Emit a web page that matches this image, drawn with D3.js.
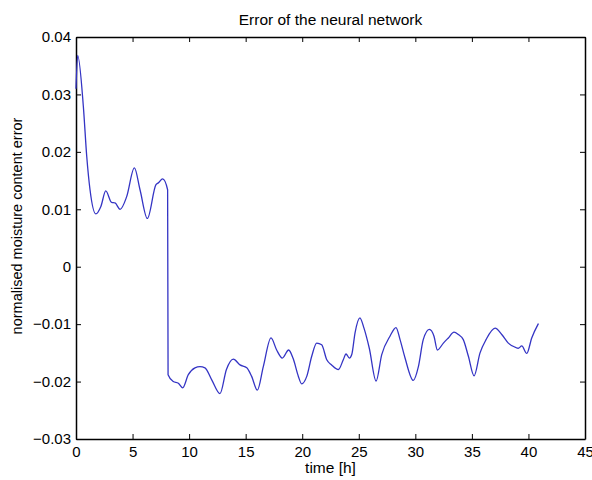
<!DOCTYPE html>
<html>
<head>
<meta charset="utf-8">
<script src="https://cdn.jsdelivr.net/npm/d3@7"></script>
<style>
body { margin: 0; background: #fff; }
text { font-family: "Liberation Sans", Arial, sans-serif; fill: #000; }
</style>
</head>
<body>
<script>
// time [h] and normalised moisture content error
var times = [0, 0.15, 0.65, 0.95, 1.24, 1.75, 2.2, 2.63, 3.15, 3.45, 3.9, 4.48, 5.16, 5.66, 6.31, 7.07, 7.28, 7.66, 8.1,
  8.14, 8.6, 9.05, 9.43, 9.93, 10.52, 10.96, 11.4, 12.0, 12.73, 13.3, 13.91, 14.5, 15.1, 15.53, 16.03, 16.56, 17.24,
  17.74, 18.24, 18.8, 19.2, 19.66, 19.95, 20.4, 20.84, 21.28, 21.72, 22.17, 22.6, 23.2, 23.63, 23.87, 24.17, 24.38,
  24.67, 25.1, 25.46, 25.93, 26.53, 27.03, 27.76, 28.29, 28.65, 29.09, 29.82, 30.27, 30.7, 31.24, 31.65, 31.95,
  32.48, 32.92, 33.42, 33.8, 34.24, 34.69, 35.19, 35.72, 36.25, 37.05, 37.64, 38.22, 38.81, 39.1, 39.41, 39.85,
  40.29, 40.88];
var errors = [0.031, 0.0368, 0.0279, 0.0192, 0.0134, 0.0092, 0.0105, 0.0132, 0.0112, 0.0111, 0.0100, 0.0122, 0.0172,
  0.0134, 0.0084, 0.0143, 0.0146, 0.0153, 0.0134,
  -0.0188, -0.0200, -0.0203, -0.0211, -0.0188, -0.0176, -0.0174, -0.0176, -0.0197, -0.0221, -0.0179, -0.0161,
  -0.0171, -0.0176, -0.0191, -0.0215, -0.0174, -0.0124, -0.0145, -0.0159, -0.0145, -0.0160, -0.0191, -0.0204,
  -0.0191, -0.0156, -0.0133, -0.0136, -0.0162, -0.0171, -0.0179, -0.0162, -0.0152, -0.0159, -0.0153, -0.0115,
  -0.0089, -0.0107, -0.0142, -0.0199, -0.0153, -0.0121, -0.0106, -0.0127, -0.0159, -0.0198, -0.0174, -0.0127,
  -0.0109, -0.0121, -0.0145, -0.0133, -0.0124, -0.0114, -0.0118, -0.0127, -0.0156, -0.0190, -0.0150, -0.0127,
  -0.0107, -0.0118, -0.0133, -0.0140, -0.0142, -0.0138, -0.0151, -0.0124, -0.0099];
var xTicks = [0, 5, 10, 15, 20, 25, 30, 35, 40, 45];
var yTicks = [-0.03, -0.02, -0.01, 0, 0.01, 0.02, 0.03, 0.04];

draw();
function draw() {
  var W = 592, H = 480;
  var pLeft = 76, pRight = 585, pTop = 37, pBottom = 439;

  var svg = d3.select("body").append("svg")
    .attr("width", W).attr("height", H);

  var x = d3.scaleLinear().domain([0, 45]).range([pLeft, pRight]);
  var y = d3.scaleLinear().domain([-0.03, 0.04]).range([pBottom, pTop]);

  function fmtY(d) {
    if (d === 0) return "0";
    return (d < 0 ? "\u22120" : "0") + d3.format(".2f")(Math.abs(d)).slice(1);
  }

  // axes, ticks pointing inward like matlab
  svg.append("g").attr("transform", "translate(0," + pBottom + ")")
    .call(d3.axisBottom(x).tickValues(xTicks).tickSizeInner(-5).tickSizeOuter(0).tickPadding(7));
  svg.append("g").attr("transform", "translate(0," + pTop + ")")
    .call(d3.axisTop(x).tickValues(xTicks).tickSizeInner(-5).tickSizeOuter(0).tickFormat(""));
  svg.append("g").attr("transform", "translate(" + pLeft + ",0)")
    .call(d3.axisLeft(y).tickValues(yTicks).tickSizeInner(-5).tickSizeOuter(0).tickPadding(5).tickFormat(fmtY));
  svg.append("g").attr("transform", "translate(" + pRight + ",0)")
    .call(d3.axisRight(y).tickValues(yTicks).tickSizeInner(-5).tickSizeOuter(0).tickFormat(""));

  svg.selectAll(".domain").attr("stroke", "#000").attr("stroke-width", 1.5);
  svg.selectAll(".tick line").attr("stroke", "#000");
  svg.selectAll(".tick text").attr("font-size", 15)
    .attr("font-family", "'Liberation Sans', Arial, sans-serif");

  var pts = times.map(function(t, i) { return [t, errors[i]]; });
  var line = d3.line()
    .x(function(d) { return x(d[0]); })
    .y(function(d) { return y(d[1]); })
    .curve(d3.curveMonotoneX);

  svg.append("path").datum(pts)
    .attr("d", line)
    .attr("fill", "none")
    .attr("stroke", "#3434c4")
    .attr("stroke-width", 1.3);

  svg.append("text").attr("x", 330.5).attr("y", 25)
    .attr("text-anchor", "middle").attr("font-size", 15.5)
    .text("Error of the neural network");
  svg.append("text").attr("x", 330.5).attr("y", 473)
    .attr("text-anchor", "middle").attr("font-size", 15.5)
    .text("time [h]");
  svg.append("text")
    .attr("transform", "translate(22,226) rotate(-90)")
    .attr("text-anchor", "middle").attr("font-size", 14.5)
    .text("normalised moisture content error");
}
</script>
</body>
</html>
